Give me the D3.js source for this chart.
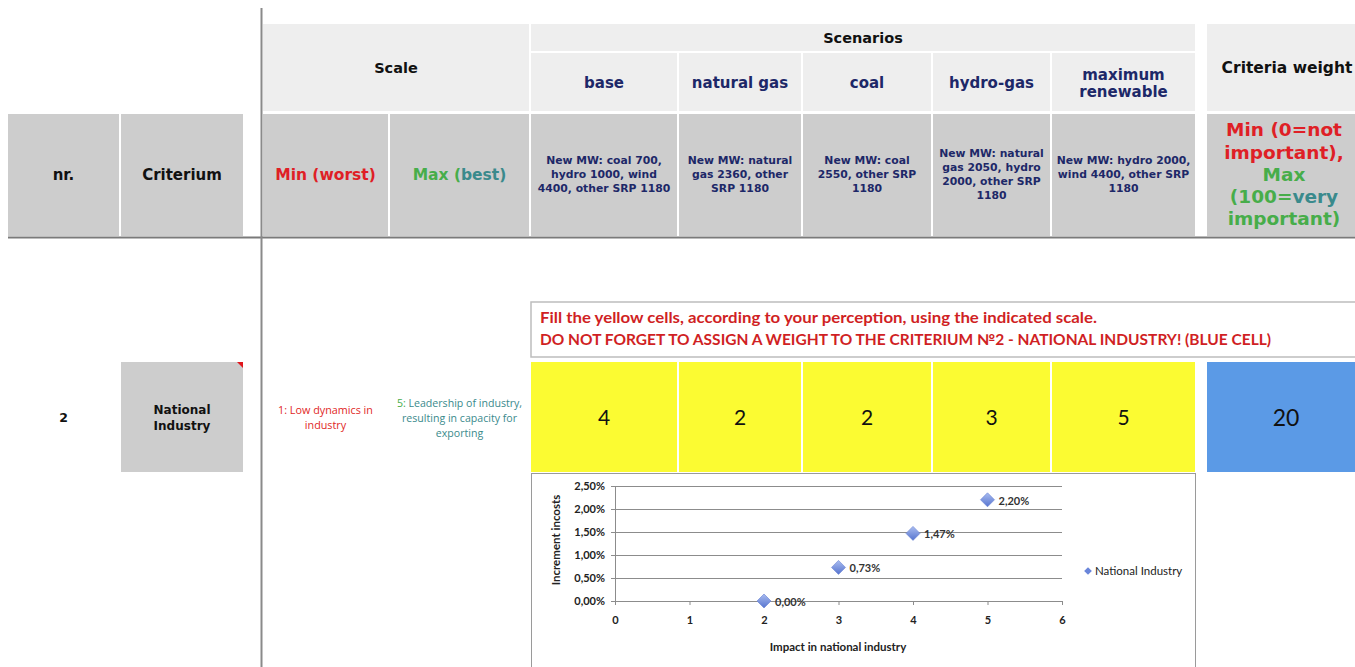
<meta charset="utf-8">
<body style="margin:0;background:#fff">
<script src="https://d3js.org/d3.v7.min.js"></script>
<script>
// ---- data read from the sheet ----
var scenarios = ["base", "natural gas", "coal", "hydro-gas", "maximum renewable"];
var scenarioLines = [
    ["New MW: coal 700,", "hydro 1000, wind", "4400, other SRP 1180"],
    ["New MW: natural", "gas 2360, other", "SRP 1180"],
    ["New MW: coal", "2550, other SRP", "1180"],
    ["New MW: natural", "gas 2050, hydro", "2000, other SRP", "1180"],
    ["New MW: hydro 2000,", "wind 4400, other SRP", "1180"]
];
var scores = [4, 2, 2, 3, 5];
var criteriaWeight = 20;
var criterionNr = "2";
var criterionName = ["National", "Industry"];
var minLabel = ["1: Low dynamics in", "industry"];
var maxLabel = ["Leadership of industry,", "resulting in capacity for", "exporting"];
var messages = [
    "Fill the yellow cells, according to your perception, using the indicated scale.",
    "DO NOT FORGET TO ASSIGN A WEIGHT TO THE CRITERIUM \u21162 - NATIONAL INDUSTRY! (BLUE CELL)"
];

// scatter chart
var seriesName = "National Industry";
var impact = [2, 3, 4, 5];
var costIncrement = [0.0, 0.0073, 0.0147, 0.0220];
var xTicks = [0, 1, 2, 3, 4, 5, 6];
var yTicks = [0, 0.005, 0.01, 0.015, 0.02, 0.025];

// ---- layout ----
var W = 1355, H = 667;
var navy = "#1d2868", red = "#df1f26", green = "#47ad4a", teal = "#3a8a8c";
var light = "#eeeeee", grey = "#cdcdcd";

var colNr = [8, 119], colCrit = [121, 243], colMin = [263, 388], colMax = [390, 529];
var colSc = [[531, 677], [679, 801], [803, 931], [933, 1050], [1052, 1195]];
var colW = [1207, 1367];

var svg = d3.select("body").append("svg")
    .attr("width", W).attr("height", H)
    .style("display", "block");

function cell(x0, x1, y0, y1, fill) {
    return svg.append("rect")
        .attr("x", x0).attr("y", y0)
        .attr("width", x1 - x0).attr("height", y1 - y0)
        .attr("fill", fill);
}

function lines(g, arr, cx, cy, lh, attrs) {
    var t = g.append("text").attr("text-anchor", "middle");
    Object.keys(attrs).forEach(function (k) { t.style(k, attrs[k]); });
    var y0 = cy - (arr.length - 1) * lh / 2;
    arr.forEach(function (s, i) {
        t.append("tspan").attr("x", cx).attr("y", y0 + i * lh).attr("dy", "0.35em").text(s);
    });
    return t;
}

var mid = function (c) { return (c[0] + c[1]) / 2; };
var hdrFont = "'DejaVu Sans', Verdana, sans-serif";
var bold = function (size, fill) {
    return {"font-family": hdrFont, "font-weight": "bold", "font-size": size, fill: fill};
};

// ---- header row 1 ----
cell(colMin[0], colMax[1], 24, 111, light);
cell(colSc[0][0], colSc[4][1], 24, 51, light);
colSc.forEach(function (c) { cell(c[0], c[1], 53, 111, light); });
cell(colW[0], colW[1], 24, 111, light);

lines(svg, ["Scale"], mid([colMin[0], colMax[1]]), 68, 16, bold("14.5px", "#111"));
lines(svg, ["Scenarios"], mid([colSc[0][0], colSc[4][1]]), 38, 16, bold("14.5px", "#111"));
lines(svg, ["Criteria weight"], 1287, 68, 16, bold("15.5px", "#111"));

scenarios.forEach(function (s, i) {
    var parts = s === "maximum renewable" ? ["maximum", "renewable"] : [s];
    lines(svg, parts, mid(colSc[i]), 83, 17, bold("15px", navy));
});

// ---- header row 2 ----
[colNr, colCrit, colMin, colMax].concat(colSc).concat([colW]).forEach(function (c) {
    cell(c[0], c[1], 114, 236, grey);
});
lines(svg, ["nr."], mid(colNr), 175, 16, bold("15px", "#111"));
lines(svg, ["Criterium"], mid(colCrit), 175, 16, bold("15px", "#111"));
lines(svg, ["Min (worst)"], mid(colMin), 175, 16, bold("15.5px", red));

var mx = svg.append("text").attr("x", mid(colMax)).attr("y", 175).attr("dy", "0.35em")
    .attr("text-anchor", "middle")
    .style("font-family", hdrFont).style("font-weight", "bold").style("font-size", "15.5px");
mx.append("tspan").attr("fill", green).text("Max (");
mx.append("tspan").attr("fill", teal).text("best)");

scenarioLines.forEach(function (ls, i) {
    lines(svg, ls, mid(colSc[i]), 174, 14, bold("10.8px", navy));
});

var wt = svg.append("text").attr("text-anchor", "middle")
    .style("font-family", hdrFont).style("font-weight", "bold").style("font-size", "18.5px");
[[["Min (0=not", red]], [["important),", red]], [["Max", green]],
 [["(100=", green], ["very", teal]], [["important)", green]]].forEach(function (row, i) {
    row.forEach(function (p, j) {
        var ts = wt.append("tspan").attr("fill", p[1]).text(p[0]);
        if (j === 0) ts.attr("x", 1284).attr("y", 130 + i * 22.2).attr("dy", "0.35em");
    });
});

// dividing lines
svg.append("line").attr("x1", 8).attr("x2", W).attr("y1", 237.5).attr("y2", 237.5)
    .attr("stroke", "#7a7a7a").attr("stroke-width", 2);
svg.append("line").attr("x1", 261.5).attr("x2", 261.5).attr("y1", 8).attr("y2", H)
    .attr("stroke", "#8a8a8a").attr("stroke-width", 2);

// ---- criterion row ----
lines(svg, [criterionNr], mid(colNr), 418, 16, bold("12.5px", "#111"));
cell(colCrit[0], colCrit[1], 362, 472, grey);
svg.append("path")
    .attr("d", "M" + (colCrit[1] - 6) + ",362L" + colCrit[1] + ",362L" + colCrit[1] + ",368Z")
    .attr("fill", "#e0161c");
lines(svg, criterionName, mid(colCrit), 418, 16, bold("12px", "#111"));

var smallFont = {"font-family": "'Open Sans', sans-serif", "font-size": "10.8px"};
lines(svg, minLabel, mid(colMin), 418, 15, Object.assign({fill: red}, smallFont));

var ml = svg.append("text").attr("text-anchor", "middle")
    .style("font-family", smallFont["font-family"]).style("font-size", "10.6px");
maxLabel.forEach(function (s, i) {
    var ts = ml.append("tspan").attr("x", mid(colMax)).attr("y", 403 + i * 15).attr("dy", "0.35em");
    if (i === 0) {
        ts.append("tspan").attr("fill", green).text("5: ");
        ts.append("tspan").attr("fill", teal).text(s);
    } else {
        ts.attr("fill", teal).text(s);
    }
});

// message box
svg.append("rect").attr("x", 531).attr("y", 302).attr("width", 840).attr("height", 55)
    .attr("fill", "#fff").attr("stroke", "#bdbdbd").attr("stroke-width", 1.5);
var msgWidths = [557, 731];
messages.forEach(function (m, i) {
    svg.append("text").attr("x", 540).attr("y", 318 + i * 22).attr("dy", "0.35em")
        .attr("textLength", msgWidths[i]).attr("lengthAdjust", "spacingAndGlyphs")
        .style("font-family", "Lato, sans-serif").style("font-weight", "bold")
        .style("font-size", "15px").attr("fill", "#d01f24").text(m);
});

// yellow scores and blue weight
scores.forEach(function (v, i) {
    cell(colSc[i][0], colSc[i][1], 362, 472, "#fbfb32");
    lines(svg, [String(v)], mid(colSc[i]), 418, 16,
        {"font-family": "Lato, sans-serif", "font-size": "21px", fill: "#111"});
});
cell(colW[0], colW[1], 362, 472, "#5b9ae6");
lines(svg, [String(criteriaWeight)], 1286, 418, 16,
    {"font-family": "Lato, sans-serif", "font-size": "23px", fill: "#111"});

// ---- scatter chart ----
svg.append("rect").attr("x", 531.5).attr("y", 473.5).attr("width", 664).attr("height", 210)
    .attr("fill", "#fff").attr("stroke", "#9a9a9a").attr("stroke-width", 1);

var x = d3.scaleLinear().domain([0, 6]).range([615, 1062]);
var y = d3.scaleLinear().domain([0, 0.025]).range([601, 486]);
var pct = d3.formatLocale({decimal: ",", thousands: ".", grouping: [3], currency: ["", "\u20ac"]})
    .format(".2%");
var chartFont = "Lato, 'Open Sans', sans-serif";

var grid = svg.append("g").attr("transform", "translate(615,0)")
    .call(d3.axisLeft(y).tickValues(yTicks).tickSize(-(1062 - 615)).tickFormat(""));
grid.select(".domain").remove();
grid.selectAll("line").attr("stroke", "#8c8c8c");

var ya = svg.append("g").attr("transform", "translate(615,0)")
    .call(d3.axisLeft(y).tickValues(yTicks).tickSize(4).tickSizeOuter(0).tickPadding(6).tickFormat(pct));
var xa = svg.append("g").attr("transform", "translate(0,601)")
    .call(d3.axisBottom(x).tickValues(xTicks).tickSize(4).tickSizeOuter(0).tickPadding(11)
        .tickFormat(d3.format("d")));
[ya, xa].forEach(function (a) {
    a.selectAll("path,line").attr("stroke", "#8c8c8c");
    a.selectAll("text").style("font-family", chartFont).style("font-size", "11px")
        .style("font-weight", "bold").attr("fill", "#222");
});

svg.append("text").attr("transform", "translate(556,540) rotate(-90)")
    .attr("text-anchor", "middle").attr("dy", "0.35em")
    .style("font-family", chartFont).style("font-size", "11.5px").style("font-weight", "bold")
    .attr("fill", "#222").text("Increment incosts");
svg.append("text").attr("x", 838).attr("y", 647).attr("dy", "0.35em")
    .attr("text-anchor", "middle")
    .style("font-family", chartFont).style("font-size", "11.5px").style("font-weight", "bold")
    .attr("fill", "#222").text("Impact in national industry");

var defs = svg.append("defs");
var grad = defs.append("linearGradient").attr("id", "dia")
    .attr("x1", 0).attr("y1", 0).attr("x2", 1).attr("y2", 1);
grad.append("stop").attr("offset", "0%").attr("stop-color", "#a9bcf0");
grad.append("stop").attr("offset", "100%").attr("stop-color", "#5674cf");

var pts = impact.map(function (d, i) { return {x: d, y: costIncrement[i]}; });
var diamond = d3.symbol().type(d3.symbolSquare).size(98);

svg.append("g").selectAll("path").data(pts).join("path")
    .attr("d", diamond)
    .attr("transform", function (d) { return "translate(" + x(d.x) + "," + y(d.y) + ") rotate(45)"; })
    .attr("fill", "url(#dia)").attr("stroke", "#6a84d4").attr("stroke-width", 0.6);

svg.append("g").selectAll("text").data(pts).join("text")
    .attr("x", function (d) { return x(d.x) + 11; })
    .attr("y", function (d) { return y(d.y) + 1; })
    .attr("dy", "0.35em")
    .style("font-family", chartFont).style("font-size", "11px").style("font-weight", "bold")
    .attr("fill", "#333").text(function (d) { return pct(d.y); });

// legend
svg.append("path").attr("d", d3.symbol().type(d3.symbolSquare).size(30))
    .attr("transform", "translate(1088,571) rotate(45)").attr("fill", "#6a86da");
svg.append("text").attr("x", 1095).attr("y", 571).attr("dy", "0.35em")
    .style("font-family", chartFont).style("font-size", "11.5px")
    .attr("fill", "#222").text(seriesName);
</script>
</body>
